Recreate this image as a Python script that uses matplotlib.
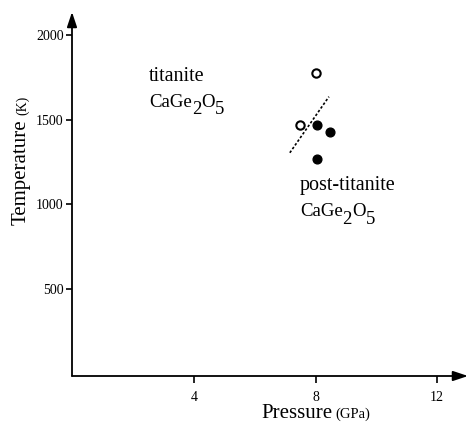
import matplotlib.pyplot as plt

plt.rcParams['font.family'] = ['Liberation Serif', 'DejaVu Serif']

# data (GPa, K)
open_p = [8.0, 7.5]
open_t = [1775, 1467]
filled_p = [8.03, 8.48, 8.03]
filled_t = [1467, 1427, 1268]
boundary_p = [7.15, 8.44]
boundary_t = [1305, 1636]

x_ticks = [4, 8, 12]
y_ticks = [500, 1000, 1500, 2000]

W, H = 469, 422
fig = plt.figure(figsize=(W / 100, H / 100), dpi=100)
ax = fig.add_axes([72 / W, 1 - 376 / H, 396 / W, 364 / H])
ax.set_xlim(-0.04, 13.03)
ax.set_ylim(-13, 2136)

for s in ax.spines.values():
    s.set_visible(False)

# axis lines with arrow heads
arrow = dict(arrowstyle='-|>,head_length=0.9,head_width=0.3', color='black',
             lw=1.3, shrinkA=0, shrinkB=0)
ax.annotate('', xy=(1, 0), xytext=(0, 0), xycoords='axes fraction', arrowprops=arrow)
ax.annotate('', xy=(0, 1), xytext=(0, 0), xycoords='axes fraction', arrowprops=arrow)

ax.plot(boundary_p, boundary_t, color='black', lw=1.2, dashes=(1.5, 1.2))
ax.plot(open_p, open_t, 'o', ms=6, mfc='white', mec='black', mew=1.5, ls='none')
ax.plot(filled_p, filled_t, 'o', ms=6.3, color='black', ls='none')

ax.set_xticks(x_ticks)
ax.set_xticklabels([str(v) for v in x_ticks])
ax.set_yticks(y_ticks)
ax.set_yticklabels([str(v) for v in y_ticks])
ax.tick_params(axis='x', direction='out', length=5, width=1.2, labelsize=10, pad=6)
ax.tick_params(axis='y', direction='out', length=4, width=1.2, labelsize=10, pad=2)


def chem(x, y, size=13.5):
    # CaGe2O5 with full size, dropped subscripts
    prev = ax.text(x, y, 'CaGe', fontsize=size, va='baseline', ha='left')
    for txt, dy in [('2', -5.5), ('O', 5.5), ('5', -5.5)]:
        prev = ax.annotate(txt, xy=(1, 0), xycoords=prev, xytext=(0, dy),
                           textcoords='offset points', fontsize=size,
                           va='bottom', ha='left')


ax.text(2.50, 1730, 'titanite', fontsize=14.5, va='baseline')
chem(2.50, 1577)
ax.text(7.48, 1085, 'post-titanite', fontsize=14.5, va='baseline')
chem(7.48, 931)

# axis titles, units in a smaller size
fig.text(261 / W, 1 - 418 / H, 'Pressure', fontsize=15, va='baseline')
fig.text(335 / W, 1 - 418 / H, '(GPa)', fontsize=10.5, va='baseline')
fig.text(26 / W, 1 - 225 / H, 'Temperature', fontsize=15, rotation=90,
         rotation_mode='anchor', ha='left', va='baseline')
fig.text(26 / W, 1 - 115 / H, '(K)', fontsize=10, rotation=90,
         rotation_mode='anchor', ha='left', va='baseline')

fig.savefig('out.png', dpi=100)
